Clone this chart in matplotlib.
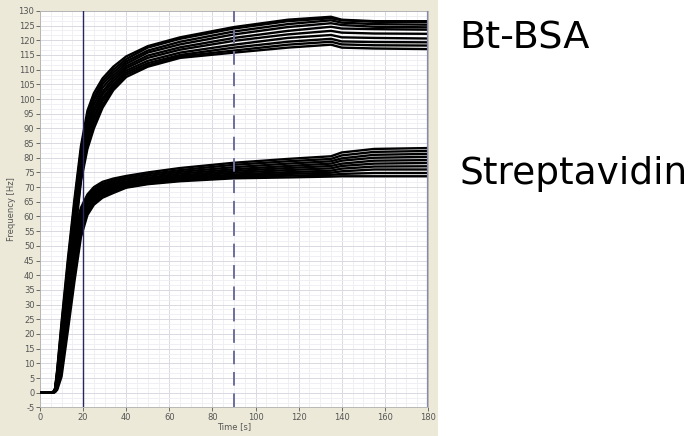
import matplotlib
matplotlib.use('Agg')
import matplotlib.pyplot as plt
from matplotlib.ticker import MultipleLocator

plt.rcParams['axes.unicode_minus'] = False

# sample times [s]
time_s = [0, 6, 7, 8, 10, 13, 16, 19, 22, 25, 29, 34, 40, 50, 65, 90, 115, 135, 140, 155, 180]

# Bt-BSA sensor traces [Hz], top to bottom
bsa_1 = [0, 0, 1.5, 8, 24, 46, 66, 84, 96, 102, 107, 111, 114.5, 118, 121, 124.5, 127, 128, 127, 126.5, 126.5]
bsa_2 = [0, 0, 1.3, 7.5, 23, 44.5, 64.5, 82.5, 94.5, 100.5, 106, 110, 113.6, 117.5, 120.5, 124, 126.5, 127.5, 126.8, 126.3, 126.2]
bsa_3 = [0, 0, 1.2, 7, 21.5, 43, 63, 81, 93, 99.5, 105, 109, 112.8, 116.5, 119.5, 123, 125.5, 126.8, 126, 125.5, 125.3]
bsa_4 = [0, 0, 1.0, 6.2, 20.5, 41, 61, 79.5, 91.5, 98, 103.8, 108, 112, 115.8, 118.6, 122, 124.5, 125.8, 125.2, 124.6, 124.4]
bsa_5 = [0, 0, 1.0, 5.8, 19.5, 39.5, 59.5, 78, 90, 96.5, 102.5, 107, 111.2, 114.8, 117.6, 120.8, 123.2, 124.6, 124, 123.8, 123.6]
bsa_6 = [0, 0, 0.8, 5, 18.5, 38, 58, 77, 89, 95.5, 101.5, 106, 110.5, 114, 116.8, 119.8, 122, 123.2, 122.6, 122.3, 122.2]
bsa_7 = [0, 0, 0.7, 4.6, 17, 36.5, 56.5, 75.5, 87.5, 94, 100.3, 105, 109.7, 113, 115.8, 118.5, 120.8, 121.8, 121, 120.8, 120.6]
bsa_8 = [0, 0, 0.6, 4, 16, 35, 55, 74.5, 86, 93, 99.3, 104.2, 109, 112.2, 115, 117.5, 119.5, 120.5, 119.6, 119.4, 119.3]
bsa_9 = [0, 0, 0.5, 3.5, 15, 33.5, 53.5, 73, 84.5, 91.5, 98, 103.5, 108.3, 111.5, 114.5, 116.5, 118.5, 119.5, 118.6, 118.3, 118.2]
bsa_10 = [0, 0, 0.5, 3, 14, 32, 52, 72, 83, 90, 97, 103, 107.5, 111, 114, 115.8, 117.5, 118.5, 117.5, 117.2, 117]

# Streptavidin sensor traces [Hz], top to bottom
str_1 = [0, 0, 1.3, 6, 20, 40, 55, 63, 67.5, 70, 71.8, 72.9, 73.8, 75, 76.5, 78.3, 79.6, 80.5, 81.8, 83, 83.3]
str_2 = [0, 0, 1.2, 5.5, 19, 38.5, 54, 62.3, 66.8, 69.3, 71.1, 72.3, 73.2, 74.4, 75.8, 77.6, 78.8, 79.6, 80.8, 82, 82.3]
str_3 = [0, 0, 1.0, 5, 17.5, 37, 53, 61.5, 66, 68.6, 70.5, 71.7, 72.6, 73.8, 75.2, 76.8, 78, 78.8, 79.8, 81, 81.3]
str_4 = [0, 0, 0.9, 4.5, 16, 35.5, 51.5, 60.5, 65.3, 67.9, 69.9, 71.1, 72, 73.2, 74.6, 76.1, 77.2, 78, 79, 80, 80.3]
str_5 = [0, 0, 0.8, 4, 15, 34, 50, 59.5, 64.6, 67.3, 69.3, 70.6, 71.5, 72.7, 74, 75.5, 76.5, 77.2, 78, 79, 79.2]
str_6 = [0, 0, 0.6, 3.3, 13, 32, 48, 58.5, 63.8, 66.6, 68.7, 70, 71, 72.2, 73.5, 74.9, 75.8, 76.4, 77.2, 78, 78.2]
str_7 = [0, 0, 0.5, 2.8, 11.5, 30, 46, 57, 63, 66, 68.1, 69.5, 70.6, 71.8, 73, 74.3, 75.1, 75.6, 76.3, 77, 77.1]
str_8 = [0, 0, 0.4, 2.2, 9.5, 27.5, 44, 56, 62.3, 65.3, 67.5, 69, 70.3, 71.5, 72.6, 73.8, 74.5, 74.9, 75.4, 76, 76]
str_9 = [0, 0, 0.3, 1.5, 7.5, 24.5, 41, 54.5, 61.5, 64.7, 67, 68.5, 70, 71.2, 72.3, 73.4, 73.9, 74.2, 74.5, 74.8, 74.8]
str_10 = [0, 0, 0.2, 1, 5.5, 21.5, 38, 53, 60.5, 64, 66.4, 68, 69.8, 71, 72, 73, 73.3, 73.6, 73.7, 73.7, 73.7]

bsa_traces = [bsa_1, bsa_2, bsa_3, bsa_4, bsa_5, bsa_6, bsa_7, bsa_8, bsa_9, bsa_10]
str_traces = [str_1, str_2, str_3, str_4, str_5, str_6, str_7, str_8, str_9, str_10]

cursor_times = [20, 90, 180]

fig = plt.figure(figsize=(6.93, 4.36), dpi=100)
fig.patch.set_facecolor('white')

# beige frame of the instrument graph
bg = fig.add_axes([0, 0, 438 / 693, 1.0], zorder=0)
bg.set_facecolor('#ECE9D8')
bg.set_xticks([])
bg.set_yticks([])
for s in bg.spines.values():
    s.set_visible(False)

ax = fig.add_axes([40 / 693, 28.6 / 436, 388 / 693, 396.5 / 436], zorder=2)
ax.set_facecolor('white')

for tr in bsa_traces + str_traces:
    ax.plot(time_s, tr, color='black', lw=1.7, zorder=3)

ax.axvline(cursor_times[0], color='#262660', lw=1.0, zorder=4)
ax.axvline(cursor_times[1], color='#6E6E9C', lw=1.4, dashes=(7, 4), zorder=4)
ax.axvline(cursor_times[2], color='#8888AA', lw=1.6, zorder=4)

ax.set_xlim(0, 180)
ax.set_ylim(-5, 130)
ax.xaxis.set_major_locator(MultipleLocator(20))
ax.xaxis.set_minor_locator(MultipleLocator(5))
ax.yaxis.set_major_locator(MultipleLocator(5))
ax.yaxis.set_minor_locator(MultipleLocator(5 / 3))
ax.grid(which='major', color='#D9D9E2', lw=0.7, zorder=1)
ax.grid(which='minor', color='#EEEEF3', lw=0.6, zorder=1)
ax.tick_params(which='major', labelsize=6, colors='#555555', length=3, width=0.6, pad=1)
ax.tick_params(which='minor', length=0)
for s in ax.spines.values():
    s.set_color('#B0B0B0')
    s.set_linewidth(0.6)

ax.set_xlabel('Time [s]', fontsize=6, color='#555555', labelpad=0)
ax.set_ylabel('Frequency [Hz]', fontsize=6, color='#555555', labelpad=2)

fig.text(459 / 693, 1 - 48.5 / 436, 'Bt-BSA', fontsize=27.5, va='baseline', ha='left')
fig.text(459 / 693, 1 - 183.5 / 436, 'Streptavidin', fontsize=27, va='baseline', ha='left')

fig.savefig('out.png', dpi=100)
